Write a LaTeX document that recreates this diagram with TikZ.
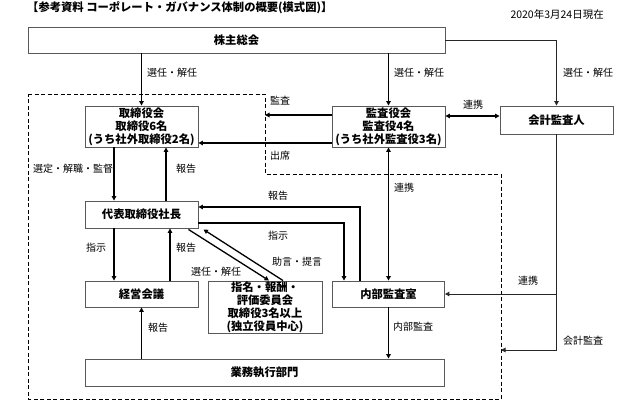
\documentclass[tikz,border=0pt]{standalone}
\usepackage{fontspec}
\setmainfont{Noto Sans CJK JP}
\usetikzlibrary{arrows.meta}
\begin{document}
\begin{tikzpicture}[x=1pt,y=-1pt,
  bx/.style={draw=black!65, line width=0.9pt, fill=white, inner sep=0pt, align=center,
    font=\fontsize{11.3}{13}\selectfont\bfseries},
  lb/.style={anchor=west, inner sep=0pt, font=\fontsize{10}{12}\selectfont},
  ar/.style={line width=1.3pt, -{Triangle[length=4.5pt,width=4.5pt]}},
  arr2/.style={line width=1.3pt, {Triangle[length=4.5pt,width=4.5pt]}-{Triangle[length=4.5pt,width=4.5pt]}},
  thinar/.style={line width=1pt, draw=black!85, -{Triangle[length=4.5pt,width=4.5pt]}},
  dashbox/.style={line width=0.9pt, dash pattern=on 4pt off 2.5pt}
]
\useasboundingbox[fill=white] (0,0) rectangle (642,413);

% titles
\node[anchor=west, inner sep=0pt, font=\fontsize{11.3}{12}\selectfont\bfseries] (title) at (27,8) {【参考資料 コーポレート・ガバナンス体制の概要(模式図)】};
\node[anchor=east, inner sep=0pt, font=\fontsize{10.5}{12}\selectfont] (date) at (604,15) {2020年3月24日現在};

% dashed region
\draw[dashbox] (28,94) -- (265,94) -- (265,174) -- (501,174) -- (501,399) -- (28,399) -- cycle;

% boxes
\node[bx, minimum width=417pt, minimum height=26pt] (kabu) at (236.5,40) {株主総会};
\node[bx, minimum width=113pt, minimum height=41pt] (tori) at (141.5,126.5) {取締役会\\取締役6名\\(うち社外取締役2名)};
\node[bx, minimum width=113pt, minimum height=41pt] (kansa) at (388.5,126.5) {監査役会\\監査役4名\\(うち社外監査役3名)};
\node[bx, minimum width=113pt, minimum height=28pt] (kaikei) at (556.5,120) {会計監査人};
\node[bx, minimum width=113pt, minimum height=27pt] (daihyo) at (141.5,214.5) {代表取締役社長};
\node[bx, minimum width=113pt, minimum height=26pt] (keiei) at (141.5,294) {経営会議};
\node[bx, minimum width=114pt, minimum height=52pt] (shimei) at (265,307) {指名・報酬・\\評価委員会\\取締役3名以上\\(独立役員中心)};
\node[bx, minimum width=112pt, minimum height=26pt] (naibu) at (388.5,294) {内部監査室};
\node[bx, minimum width=359pt, minimum height=27pt] (gyomu) at (264.5,372.5) {業務執行部門};

% coordinates for free ends
\coordinate (dk) at (265,115);
\coordinate (dk2) at (501,350);
\coordinate (kk) at (557,294);
\coordinate (y116) at (0,116);
\coordinate (y143) at (0,143);

% connectors
\draw[ar] (kabu.south -| tori.north) -- (tori.north);
\draw[ar] (kabu.south -| kansa.north) -- (kansa.north);
\draw[thinar] (kabu.east) -- (kabu.east -| kaikei.north) -- (kaikei.north);
\draw[arr2] (kansa.east |- y116) -- (kaikei.west |- y116);
\draw[ar] (kansa.west |- dk) -- (dk);
\draw[ar] (kansa.west |- y143) -- (tori.east |- y143);
\draw[ar] ([xshift=-27.5pt]tori.south) -- ([xshift=-27.5pt]daihyo.north);
\draw[ar] ([xshift=24.5pt]daihyo.north) -- ([xshift=24.5pt]tori.south);
\draw[ar] ([xshift=-28.5pt]naibu.north) |- ([yshift=7.5pt]daihyo.east);
\draw[ar] ([yshift=-8.5pt]daihyo.east) -| ([xshift=-44.5pt]naibu.north);
\draw[arr2] (kansa.south) -- (naibu.north);
\draw[ar] ([xshift=-27.5pt]daihyo.south) -- ([xshift=-27.5pt]keiei.north);
\draw[ar] ([xshift=28.5pt]keiei.north) -- ([xshift=28.5pt]daihyo.south);
\draw[ar] (gyomu.north -| keiei.south) -- (keiei.south);
\draw[ar] ([xshift=-10pt,yshift=-1pt]daihyo.south east) -- ([xshift=4pt]shimei.north);
\draw[ar] ([xshift=18pt]shimei.north) -- ([xshift=5pt,yshift=-1pt]daihyo.south east);
\draw[ar] (naibu.south) -- (naibu.south |- gyomu.north);
\draw[thinar] (kaikei.south) |- (dk2);
\draw[thinar] (kk) -- (naibu.east);

% labels
\node[lb] (l1) at (147,73) {選任・解任};
\node[lb] (l2) at (394,73) {選任・解任};
\node[lb] (l3) at (563,73) {選任・解任};
\node[lb] (l4) at (463,105) {連携};
\node[lb] (l5) at (270,101) {監査};
\node[lb] (l6) at (270,156) {出席};
\node[lb] (l7) at (33,169) {選定・解職・監督};
\node[lb] (l8) at (176,169) {報告};
\node[lb] (l9) at (268,196) {報告};
\node[lb] (l10) at (268,236) {指示};
\node[lb] (l11) at (394,188) {連携};
\node[lb] (l12) at (86,248) {指示};
\node[lb] (l13) at (176,248) {報告};
\node[lb] (l14) at (191,272) {選任・解任};
\node[lb] (l15) at (272,262) {助言・提言};
\node[lb] (l16) at (148,328) {報告};
\node[lb] (l17) at (393,327) {内部監査};
\node[lb] (l18) at (518,281) {連携};
\node[lb] (l19) at (563,341) {会計監査};
\end{tikzpicture}
\end{document}
